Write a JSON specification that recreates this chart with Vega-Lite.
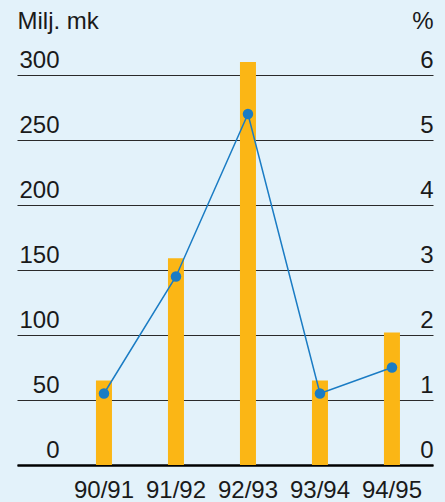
{
  "$schema": "https://vega.github.io/schema/vega-lite/v6.json",
  "width": 416,
  "height": 390,
  "autosize": {"type": "none"},
  "padding": {"left": 17, "top": 75, "right": 12, "bottom": 37},
  "background": "#e3f2fa",
  "config": {
    "view": {"stroke": null},
    "font": "Liberation Sans",
    "axis": {"labelColor": "#1a1a1a", "titleColor": "#1a1a1a", "labelFont": "Liberation Sans", "titleFont": "Liberation Sans"}
  },
  "data": {
    "values": [
      {"year": "90/91", "amount": 65, "pct": 1.1},
      {"year": "91/92", "amount": 159, "pct": 2.9},
      {"year": "92/93", "amount": 310, "pct": 5.4},
      {"year": "93/94", "amount": 65, "pct": 1.1},
      {"year": "94/95", "amount": 102, "pct": 1.5}
    ]
  },
  "encoding": {
    "x": {
      "field": "year",
      "type": "nominal",
      "sort": null,
      "scale": {"paddingInner": 0.778, "paddingOuter": 0.778, "align": 0.705},
      "axis": {
        "title": null,
        "labelAngle": 0,
        "ticks": false,
        "tickSize": 0,
        "domain": true,
        "domainColor": "#000000",
        "domainWidth": 2.5,
        "labelFontSize": 24,
        "labelBaseline": "alphabetic",
        "labelPadding": 32
      }
    }
  },
  "layer": [
    {
      "mark": {"type": "bar", "color": "#fbb615", "size": 16},
      "encoding": {
        "y": {
          "field": "amount",
          "type": "quantitative",
          "scale": {"domain": [0, 300], "nice": false},
          "axis": {
            "orient": "left",
            "values": [0, 50, 100, 150, 200, 250, 300],
            "domain": false,
            "ticks": false,
            "tickSize": 0,
            "grid": true,
            "gridColor": "#2a2a2a",
            "gridWidth": 1.2,
            "labelAlign": "right",
            "labelPadding": -42,
            "labelBaseline": "alphabetic",
            "labelOffset": -8,
            "labelFontSize": 24,
            "title": "Milj. mk",
            "titleAngle": 0,
            "titleX": 0,
            "titleY": -47,
            "titleAlign": "left",
            "titleBaseline": "alphabetic",
            "titleFontSize": 24,
            "titleFontWeight": "normal"
          }
        }
      }
    },
    {
      "mark": {"type": "line", "color": "#1a7cc4", "strokeWidth": 1.5, "point": {"filled": true, "size": 110, "color": "#1a7cc4"}},
      "encoding": {
        "y": {
          "field": "pct",
          "type": "quantitative",
          "scale": {"domain": [0, 6], "nice": false},
          "axis": {
            "orient": "right",
            "values": [0, 1, 2, 3, 4, 5, 6],
            "domain": false,
            "ticks": false,
            "tickSize": 0,
            "grid": false,
            "labelAlign": "right",
            "labelPadding": 0,
            "labelBaseline": "alphabetic",
            "labelOffset": -8,
            "labelFontSize": 24,
            "title": "%",
            "titleAngle": 0,
            "titleX": 0,
            "titleY": -47,
            "titleAlign": "right",
            "titleBaseline": "alphabetic",
            "titleFontSize": 24,
            "titleFontWeight": "normal"
          }
        }
      }
    }
  ],
  "resolve": {"scale": {"y": "independent"}}
}
